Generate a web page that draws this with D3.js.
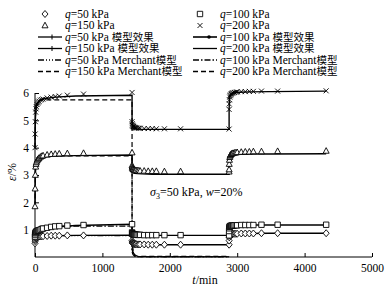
<!DOCTYPE html>
<html>
<head>
<meta charset="utf-8">
<script src="https://cdn.jsdelivr.net/npm/d3@7"></script>
<style>
body { margin: 0; background: #fff; }
text { font-family: "Liberation Serif", "Times New Roman", serif; fill: #000; }
.cjk { font-family: "Noto Sans CJK SC", sans-serif; }
</style>
</head>
<body>
<script>
// three stages of 1440 min: load, unload, reload
var stageStart = [0, 1440, 2880];
// measuring times inside a stage (min)
var tOff = [0, 2, 5, 10, 15, 20, 30, 40, 50, 60, 80, 100, 120, 180, 240, 300, 360, 480, 720, 1440];
// times used for the fitted curves inside a stage
var tFit = [0, 5, 10, 20, 40, 80, 150, 300, 600, 1440];

// measured strain (%) per q and stage
var q50s1 = [0.5, 0.58, 0.63, 0.67, 0.69, 0.7, 0.72, 0.73, 0.74, 0.75, 0.75, 0.76, 0.76, 0.77, 0.78, 0.78, 0.78, 0.79, 0.79, 0.8];
var q50s2 = [0.6, 0.55, 0.52, 0.5, 0.49, 0.48, 0.48, 0.47, 0.47, 0.47, 0.46, 0.46, 0.46, 0.46, 0.45, 0.45, 0.45, 0.45, 0.45, 0.45];
var q50s3 = [0.6, 0.72, 0.78, 0.8, 0.82, 0.83, 0.83, 0.84, 0.84, 0.85, 0.85, 0.85, 0.85, 0.86, 0.86, 0.86, 0.86, 0.87, 0.87, 0.87];
var q100s1 = [0.75, 0.82, 0.87, 0.9, 0.92, 0.93, 0.95, 0.96, 0.97, 0.98, 1.0, 1.02, 1.04, 1.07, 1.1, 1.12, 1.13, 1.15, 1.17, 1.2];
var q100s2 = [0.9, 0.87, 0.85, 0.84, 0.83, 0.83, 0.82, 0.82, 0.82, 0.81, 0.81, 0.81, 0.81, 0.8, 0.8, 0.8, 0.8, 0.8, 0.8, 0.79];
var q100s3 = [0.95, 1.05, 1.1, 1.12, 1.13, 1.14, 1.14, 1.15, 1.15, 1.15, 1.16, 1.16, 1.16, 1.17, 1.17, 1.17, 1.17, 1.18, 1.18, 1.18];
var q150s1 = [1.85, 2.5, 3.0, 3.3, 3.4, 3.46, 3.52, 3.56, 3.59, 3.62, 3.66, 3.69, 3.71, 3.74, 3.76, 3.77, 3.78, 3.79, 3.8, 3.82];
var q150s2 = [3.35, 3.3, 3.26, 3.23, 3.21, 3.2, 3.19, 3.18, 3.17, 3.17, 3.16, 3.16, 3.15, 3.15, 3.14, 3.14, 3.14, 3.13, 3.13, 3.12];
var q150s3 = [3.2, 3.4, 3.55, 3.65, 3.7, 3.73, 3.76, 3.78, 3.79, 3.8, 3.81, 3.82, 3.83, 3.84, 3.85, 3.85, 3.86, 3.86, 3.87, 3.88];
var q200s1 = [4.0, 4.5, 4.95, 5.3, 5.42, 5.5, 5.58, 5.63, 5.67, 5.7, 5.74, 5.76, 5.78, 5.82, 5.85, 5.87, 5.89, 5.92, 5.96, 6.02];
var q200s2 = [4.95, 4.88, 4.83, 4.8, 4.78, 4.77, 4.75, 4.74, 4.73, 4.72, 4.72, 4.71, 4.71, 4.7, 4.7, 4.7, 4.69, 4.69, 4.69, 4.68];
var q200s3 = [5.4, 5.6, 5.75, 5.85, 5.9, 5.93, 5.96, 5.98, 6.0, 6.01, 6.02, 6.03, 6.04, 6.05, 6.05, 6.06, 6.06, 6.07, 6.07, 6.08];

// model (模型效果) curves
var fit50s1 = [0.5, 0.63, 0.67, 0.7, 0.73, 0.75, 0.77, 0.78, 0.79, 0.8];
var fit50s2 = [0.6, 0.52, 0.5, 0.48, 0.47, 0.46, 0.45, 0.45, 0.45, 0.45];
var fit50s3 = [0.6, 0.78, 0.8, 0.83, 0.84, 0.85, 0.86, 0.86, 0.87, 0.87];
var fit100s1 = [0.75, 0.87, 0.9, 0.93, 0.96, 1.0, 1.05, 1.1, 1.15, 1.2];
var fit100s2 = [0.9, 0.85, 0.83, 0.82, 0.81, 0.8, 0.8, 0.79, 0.79, 0.79];
var fit100s3 = [0.95, 1.1, 1.12, 1.14, 1.15, 1.16, 1.16, 1.17, 1.17, 1.17];
var fit150s1 = [1.85, 3.0, 3.3, 3.48, 3.58, 3.64, 3.67, 3.69, 3.71, 3.73];
var fit150s2 = [3.35, 3.18, 3.12, 3.08, 3.06, 3.05, 3.04, 3.03, 3.03, 3.03];
var fit150s3 = [3.2, 3.55, 3.64, 3.7, 3.73, 3.75, 3.76, 3.77, 3.77, 3.78];
var fit200s1 = [4.0, 4.95, 5.3, 5.5, 5.63, 5.74, 5.8, 5.85, 5.89, 5.92];
var fit200s2 = [4.95, 4.8, 4.75, 4.71, 4.69, 4.68, 4.67, 4.67, 4.67, 4.67];
var fit200s3 = [5.4, 5.78, 5.88, 5.95, 5.99, 6.02, 6.03, 6.04, 6.05, 6.07];

// Merchant model curves (loading and unloading only)
var mer50s1 = [0.5, 0.63, 0.69, 0.74, 0.77, 0.78, 0.78, 0.78, 0.78, 0.78];
var mer50s2 = [0.2, 0.15, 0.11, 0.07, 0.03, 0.01, 0.01, 0.01, 0.01, 0.01];
var mer100s1 = [0.75, 0.9, 0.98, 1.05, 1.1, 1.12, 1.13, 1.13, 1.13, 1.13];
var mer100s2 = [0.3, 0.22, 0.17, 0.1, 0.04, 0.01, 0.01, 0.01, 0.01, 0.01];
var mer150s1 = [1.85, 3.0, 3.35, 3.55, 3.66, 3.7, 3.7, 3.7, 3.7, 3.7];
var mer150s2 = [0.45, 0.35, 0.27, 0.15, 0.06, 0.02, 0.01, 0.01, 0.01, 0.01];
var mer200s1 = [4.0, 4.9, 5.3, 5.6, 5.72, 5.75, 5.75, 5.75, 5.75, 5.75];
var mer200s2 = [0.6, 0.45, 0.35, 0.2, 0.08, 0.03, 0.02, 0.02, 0.02, 0.02];

var xTicks = [0, 1000, 2000, 3000, 4000, 5000];
var yTicks = [1, 2, 3, 4, 5, 6];

var svg = d3.select("body").append("svg")
	.attr("width", 392).attr("height", 293);

var x = d3.scaleLinear().domain([0, 5000]).range([35, 372]);
var y = d3.scaleLinear().domain([0, 6]).range([257, 93]);

// join stage arrays into one series of {t,e}
function series(times, stages) {
	var pts = [];
	stages.forEach(function(arr, s) {
		arr.forEach(function(v, i) {
			pts.push({t: stageStart[s] + times[i], e: v});
		});
	});
	return pts;
}

var line = d3.line()
	.x(function(d) { return x(d.t); })
	.y(function(d) { return y(d.e); });

// axes
var xAxis = d3.axisBottom(x).tickValues(xTicks).tickFormat(d3.format("d"))
	.tickSizeInner(-4).tickSizeOuter(0).tickPadding(7);
var yAxis = d3.axisLeft(y).tickValues(yTicks).tickFormat(d3.format("d"))
	.tickSizeInner(-4).tickSizeOuter(0).tickPadding(6);
var gx = svg.append("g").attr("transform", "translate(0," + y(0) + ")").call(xAxis);
var gy = svg.append("g").attr("transform", "translate(" + x(0) + ",0)").call(yAxis);
[gx, gy].forEach(function(g) {
	g.select(".domain").attr("stroke", "#000").attr("stroke-width", 1);
	g.selectAll(".tick line").attr("stroke", "#000");
	g.selectAll("text").attr("font-size", 11.5).attr("fill", "#000")
		.style("font-family", "'Liberation Serif', serif");
});
gy.select(".domain").attr("d", "M0," + y(0) + "V" + y(6));
gx.select(".domain").attr("d", "M" + x(0) + ",0H" + x(5000));

// Merchant lines
var merStyle = [
	{d: [mer50s1, mer50s2], dash: "6,2,1,2,1,2,1,2"},
	{d: [mer100s1, mer100s2], dash: "6,2,1.5,2"},
	{d: [mer150s1, mer150s2], dash: "5,3"},
	{d: [mer200s1, mer200s2], dash: "5,3"}
];
merStyle.forEach(function(m) {
	svg.append("path")
		.attr("d", line(series(tFit, m.d)))
		.attr("fill", "none").attr("stroke", "#000")
		.attr("stroke-width", 1.2).attr("stroke-dasharray", m.dash);
});

// model lines
var fits = [
	[fit50s1, fit50s2, fit50s3],
	[fit100s1, fit100s2, fit100s3],
	[fit150s1, fit150s2, fit150s3],
	[fit200s1, fit200s2, fit200s3]
];
fits.forEach(function(f) {
	svg.append("path")
		.attr("d", line(series(tFit, f)))
		.attr("fill", "none").attr("stroke", "#000").attr("stroke-width", 1.4);
});

// marker shapes
var shapes = {
	diamond: "M0,-3.5L3,0L0,3.5L-3,0Z",
	square: "M-2.7,-2.7H2.7V2.7H-2.7Z",
	triangle: "M0,-3.3L3,2.3H-3Z",
	cross: "M-2.5,-2.5L2.5,2.5M-2.5,2.5L2.5,-2.5"
};

var measured = [
	{d: [q50s1, q50s2, q50s3], s: "diamond"},
	{d: [q100s1, q100s2, q100s3], s: "square"},
	{d: [q150s1, q150s2, q150s3], s: "triangle"},
	{d: [q200s1, q200s2, q200s3], s: "cross"}
];
measured.forEach(function(m) {
	svg.append("g").selectAll("path")
		.data(series(tOff, m.d))
		.enter().append("path")
		.attr("transform", function(d) { return "translate(" + x(d.t) + "," + y(d.e) + ")"; })
		.attr("d", shapes[m.s])
		.attr("fill", "#fff").attr("stroke", "#000").attr("stroke-width", 0.9);
});

// axis titles
var yl = svg.append("text")
	.attr("transform", "translate(16,172) rotate(-90)")
	.attr("text-anchor", "middle").attr("font-size", 12);
yl.append("tspan").attr("font-style", "italic").text("ε");
yl.append("tspan").text("/%");

var xl = svg.append("text")
	.attr("x", 205).attr("y", 284)
	.attr("text-anchor", "middle").attr("font-size", 12);
xl.append("tspan").attr("font-style", "italic").text("t");
xl.append("tspan").text("/min");

// condition note
var note = svg.append("text").attr("x", 150).attr("y", 196).attr("font-size", 12);
note.append("tspan").attr("font-style", "italic").text("σ");
note.append("tspan").attr("font-size", 8).attr("dy", 3).text("3");
note.append("tspan").attr("dy", -3).text("=50 kPa, ");
note.append("tspan").attr("font-style", "italic").text("w");
note.append("tspan").text("=20%");

// legend
var legendRows = [
	{col: 0, row: 0, q: "50", mark: "diamond"},
	{col: 1, row: 0, q: "100", mark: "square"},
	{col: 0, row: 1, q: "150", mark: "triangle"},
	{col: 1, row: 1, q: "200", mark: "cross"},
	{col: 0, row: 2, q: "50", after: " ", cjk: "模型效果", line: "tick"},
	{col: 1, row: 2, q: "100", after: " ", cjk: "模型效果", line: "dot"},
	{col: 0, row: 3, q: "150", after: " ", cjk: "模型效果", line: "tick"},
	{col: 1, row: 3, q: "200", after: " ", cjk: "模型效果", line: "plain"},
	{col: 0, row: 4, q: "50", after: " Merchant", cjk: "模型", dash: "6,2,1,2,1,2,1,2"},
	{col: 1, row: 4, q: "100", after: " Merchant", cjk: "模型", dash: "6,2,1.5,2"},
	{col: 0, row: 5, q: "150", after: " Merchant", cjk: "模型", dash: "5,3"},
	{col: 1, row: 5, q: "200", after: " Merchant", cjk: "模型", dash: "5,3"}
];
var colX = [38, 193];
var rowY = [14, 25.5, 37, 48.5, 60, 71.5];

legendRows.forEach(function(r) {
	var lx = colX[r.col], ly = rowY[r.row];
	var g = svg.append("g");
	if (r.mark) {
		g.append("path")
			.attr("transform", "translate(" + (lx + 7) + "," + ly + ")")
			.attr("d", shapes[r.mark])
			.attr("fill", "#fff").attr("stroke", "#000").attr("stroke-width", 0.9);
	} else {
		g.append("line")
			.attr("x1", lx).attr("x2", lx + 24).attr("y1", ly).attr("y2", ly)
			.attr("stroke", "#000").attr("stroke-width", r.line === "dot" ? 1.6 : 1.3)
			.attr("stroke-dasharray", r.dash || null);
		if (r.line === "tick") {
			g.append("line")
				.attr("x1", lx + 14).attr("x2", lx + 14).attr("y1", ly - 2.5).attr("y2", ly + 2.5)
				.attr("stroke", "#000").attr("stroke-width", 1);
		} else if (r.line === "dot") {
			g.append("circle").attr("cx", lx + 16).attr("cy", ly).attr("r", 1.8).attr("fill", "#000");
		}
	}
	var t = g.append("text").attr("x", lx + 27).attr("y", ly + 3.8).attr("font-size", 11.5);
	t.append("tspan").attr("font-style", "italic").text("q");
	t.append("tspan").text("=" + r.q + " kPa" + (r.after || ""));
	if (r.cjk) {
		t.append("tspan").attr("class", "cjk").attr("font-size", 10.5).text(r.cjk);
	}
});
</script>
</body>
</html>
